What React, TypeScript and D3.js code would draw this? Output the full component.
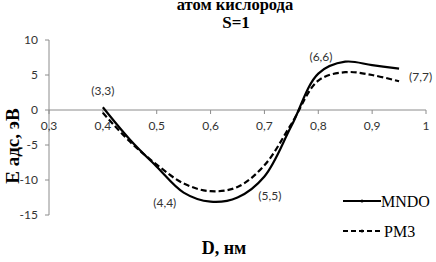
import React from "react";
import * as d3 from "d3";

const xs = [0.4, 0.45, 0.5, 0.55, 0.6, 0.65, 0.7, 0.75, 0.8, 0.85, 0.9, 0.95];
const mndo = [0.4, -4.2, -8.1, -11.8, -13.1, -12.5, -9.5, -2.3, 5.2, 6.9, 6.4, 5.9];
const pm3 = [-0.4, -4.5, -7.8, -10.5, -11.6, -11.0, -7.9, -2.0, 4.2, 5.4, 5.0, 4.1];
const xTicks = [0.3, 0.4, 0.5, 0.6, 0.7, 0.8, 0.9, 1];
const yTicks = [10, 5, 0, -5, -10, -15];
const pointLabels = [
  { text: "(3,3)", x: 0.4, y: 2.2 },
  { text: "(4,4)", x: 0.515, y: -13.9 },
  { text: "(5,5)", x: 0.71, y: -12.8 },
  { text: "(6,6)", x: 0.805, y: 7.0 },
  { text: "(7,7)", x: 0.99, y: 4.1 },
];
const seriesNames = ["MNDO", "PM3"];

const fmt = (v: number) => (v === 1 ? "1" : String(v).replace(".", ","));

export default function App() {
  const x = d3.scaleLinear().domain([0.3, 1]).range([49, 426]);
  const y = d3.scaleLinear().domain([-15, 10]).range([215, 40]);
  const line = d3
    .line<number>()
    .x((_, i) => x(xs[i]))
    .y((d) => y(d))
    .curve(d3.curveCatmullRom.alpha(0.5));
  const tickFont = "Lato, 'Open Sans', sans-serif";
  const serif = "'Liberation Serif', 'DejaVu Serif', serif";
  return (
    <svg
      width={436}
      height={262}
      style={{ position: "absolute", left: 0, top: 0, background: "#fff" }}
    >
      <rect width={436} height={262} fill="#fff" />
      <text x={235} y={10} textAnchor="middle" fontFamily={serif} fontWeight="bold" fontSize={16.5}>
        атом кислорода
      </text>
      <text x={236} y={28} textAnchor="middle" fontFamily={serif} fontWeight="bold" fontSize={17}>
        S=1
      </text>
      {/* axes */}
      <line x1={x(0.3)} x2={x(0.3)} y1={y(10)} y2={y(-15)} stroke="#8c8c8c" strokeWidth={1} />
      <line x1={x(0.3)} x2={x(1)} y1={y(0)} y2={y(0)} stroke="#8c8c8c" strokeWidth={1} />
      {yTicks.map((t) => (
        <g key={"y" + t}>
          <line x1={x(0.3) - 4} x2={x(0.3)} y1={y(t)} y2={y(t)} stroke="#8c8c8c" />
          <text x={38} y={y(t)} dy="0.35em" textAnchor="end" fontFamily={tickFont} fontSize={12} fill="#333">
            {t}
          </text>
        </g>
      ))}
      {xTicks.map((t) => (
        <g key={"x" + t}>
          <line x1={x(t)} x2={x(t)} y1={y(0)} y2={y(0) + 4} stroke="#8c8c8c" />
          <text x={x(t)} y={y(0) + 20} textAnchor="middle" fontFamily={tickFont} fontSize={12} fill="#333">
            {fmt(t)}
          </text>
        </g>
      ))}
      <path d={line(pm3) || ""} fill="none" stroke="#000" strokeWidth={2.2} strokeDasharray="6,3" />
      <path d={line(mndo) || ""} fill="none" stroke="#000" strokeWidth={2.2} />
      {pointLabels.map((p) => (
        <text key={p.text} x={x(p.x)} y={y(p.y)} textAnchor="middle" fontFamily={tickFont} fontSize={12} fill="#333">
          {p.text}
        </text>
      ))}
      <text
        transform={`translate(19,146) rotate(-90)`}
        textAnchor="middle"
        fontFamily={serif}
        fontWeight="bold"
        fontSize={19}
      >
        E адс, эВ
      </text>
      <text x={224} y={254} textAnchor="middle" fontFamily={serif} fontWeight="bold" fontSize={18}>
        D, нм
      </text>
      {/* legend */}
      <line x1={343} x2={381} y1={201} y2={201} stroke="#000" strokeWidth={2} />
      <circle cx={362} cy={201} r={1.5} fill="#000" />
      <text x={381} y={207} fontFamily={serif} fontSize={16}>
        {seriesNames[0]}
      </text>
      <line x1={343} x2={381} y1={231} y2={231} stroke="#000" strokeWidth={2} strokeDasharray="5,3" />
      <circle cx={362} cy={231} r={1.5} fill="#000" />
      <text x={384} y={237} fontFamily={serif} fontSize={16}>
        {seriesNames[1]}
      </text>
    </svg>
  );
}
